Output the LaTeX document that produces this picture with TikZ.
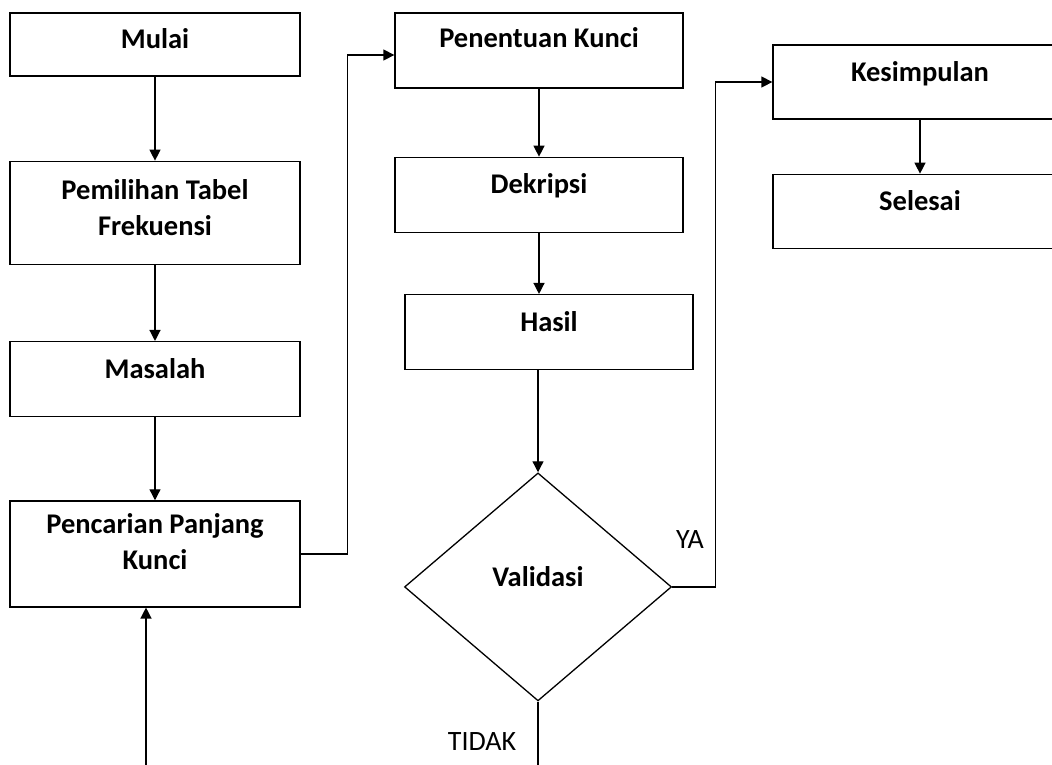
\documentclass[tikz,border=0pt]{standalone}
\usepackage{fontspec}
\setmainfont{Carlito}
\usetikzlibrary{positioning,shapes.geometric,arrows.meta}

\newcommand{\boxfont}{\fontsize{28.5}{36}\selectfont\bfseries}
\tikzset{
  stepbox/.style={draw, line width=1.3pt, minimum width=290pt, minimum height=75pt, inner sep=0pt},
  boxtext/.style={font=\boxfont, align=center, anchor=north, inner sep=0pt, yshift=-17pt},
  flow/.style={line width=1.3pt, -{Triangle[length=11pt,width=11pt]}},
  branch/.style={font=\fontsize{28}{32}\selectfont},
}

\begin{document}
\begin{tikzpicture}[x=1pt, y=-1pt]
  \clip (0,0) rectangle (1052,764);
  % kolom kiri
  \node[stepbox, minimum height=63pt, label={[boxtext, yshift=1pt]north:Mulai}] (mulai) at (155,44.5) {};
  \node[stepbox, minimum height=103pt, below=84pt of mulai,
        label={[boxtext, yshift=-2pt]north:Pemilihan Tabel\\Frekuensi}] (pemilihan) {};
  \node[stepbox, below=76pt of pemilihan, label={[boxtext]north:Masalah}] (masalah) {};
  \node[stepbox, minimum height=106pt, below=83pt of masalah,
        label={[boxtext, yshift=4pt]north:Pencarian Panjang\\Kunci}] (pencarian) {};

  % kolom tengah
  \node[stepbox, minimum width=288pt, label={[boxtext, yshift=2pt]north:Penentuan Kunci}] (penentuan) at (539,50.5) {};
  \node[stepbox, minimum width=288pt, below=68pt of penentuan, label={[boxtext]north:Dekripsi}] (dekripsi) {};
  \node[stepbox, minimum width=288pt, below=61pt of dekripsi, xshift=10pt, label={[boxtext]north:Hasil}] (hasil) {};
  \node[draw, diamond, line width=1.3pt, inner sep=0pt, minimum width=267pt, minimum height=228pt,
        below=102pt of hasil, xshift=-11pt,
        label={[font=\boxfont, inner sep=0pt, yshift=10pt]center:Validasi}] (validasi) {};

  % kolom kanan
  \node[stepbox, minimum width=294pt, minimum height=74pt, label={[boxtext]north:Kesimpulan}] (kesimpulan) at (920,82) {};
  \node[stepbox, minimum width=294pt, minimum height=74pt, below=54pt of kesimpulan, label={[boxtext]north:Selesai}] (selesai) {};

  \coordinate (tidak) at (538,770);
  \coordinate (ulang) at (146,770);

  \draw[flow] (mulai) -- (pemilihan);
  \draw[flow] (pemilihan) -- (masalah);
  \draw[flow] (masalah) -- (pencarian);
  \draw[flow] (pencarian.east) -- ++(47,0) |- ([yshift=-4.5pt]penentuan.west);
  \draw[flow] (penentuan) -- (dekripsi);
  \draw[flow] (dekripsi.south) -- (dekripsi.south |- hasil.north);
  \draw[flow] (hasil.south -| validasi.north) -- (validasi.north);
  \draw[flow] (validasi.east) -- ++(43,0) |- (kesimpulan.west);
  \draw[flow] (kesimpulan) -- (selesai);
  \draw[line width=1.3pt] (validasi.south) -- (tidak);
  \draw[flow] (ulang) -- (ulang |- pencarian.south);

  \node[branch] (ya) at (690,540) {YA};
  \node[branch] (tdk) at (482,742) {TIDAK};
\end{tikzpicture}
\end{document}
